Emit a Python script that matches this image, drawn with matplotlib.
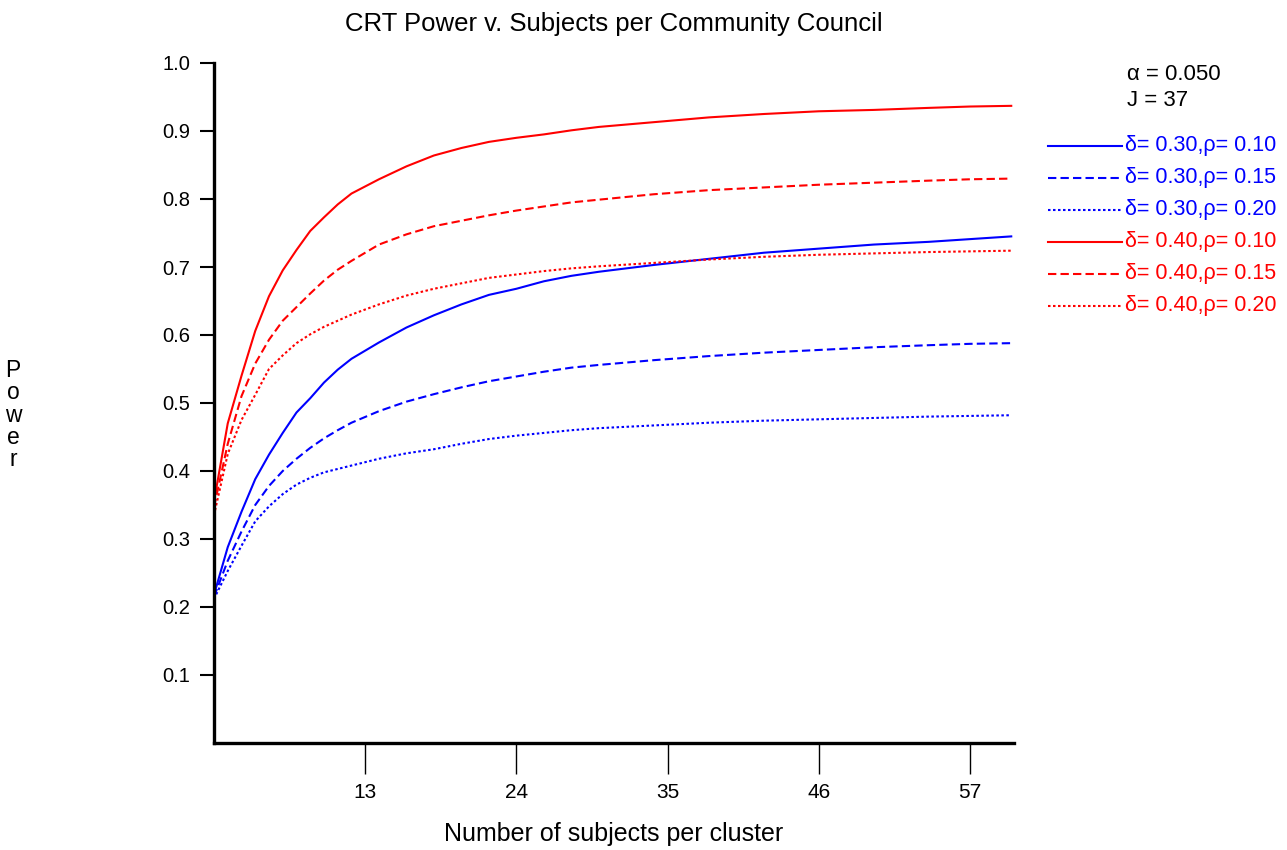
# plot.py
# CRT power curves vs. subjects per cluster (J = 37, alpha = 0.05)

import matplotlib
matplotlib.use("Agg")
import matplotlib.pyplot as plt
from matplotlib.lines import Line2D

plt.rcParams["font.family"] = ["Liberation Sans", "DejaVu Sans"]

# ─────────────────────────────────────────────
# DATA
# ─────────────────────────────────────────────
n_per_cluster = [2, 3, 4, 5, 6, 7, 8, 9, 10, 11, 12, 14, 16, 18, 20, 22, 24,
                 26, 28, 30, 34, 38, 42, 46, 50, 54, 57, 60]

power_d30_r10 = [0.218, 0.288, 0.340, 0.388, 0.424, 0.456, 0.486, 0.507, 0.530,
                 0.549, 0.565, 0.589, 0.611, 0.629, 0.645, 0.659, 0.668, 0.679,
                 0.687, 0.693, 0.703, 0.712, 0.721, 0.727, 0.733, 0.737, 0.741,
                 0.745]
power_d30_r15 = [0.215, 0.268, 0.311, 0.350, 0.378, 0.400, 0.418, 0.434, 0.448,
                 0.460, 0.471, 0.488, 0.502, 0.513, 0.523, 0.532, 0.539, 0.546,
                 0.552, 0.556, 0.563, 0.569, 0.574, 0.578, 0.582, 0.585, 0.587,
                 0.588]
power_d30_r20 = [0.212, 0.253, 0.290, 0.326, 0.348, 0.366, 0.380, 0.390, 0.398,
                 0.403, 0.408, 0.418, 0.426, 0.432, 0.440, 0.447, 0.452, 0.456,
                 0.460, 0.463, 0.467, 0.471, 0.474, 0.476, 0.478, 0.480, 0.481,
                 0.482]
power_d40_r10 = [0.355, 0.470, 0.540, 0.606, 0.657, 0.695, 0.725, 0.753, 0.773,
                 0.792, 0.808, 0.829, 0.848, 0.864, 0.875, 0.884, 0.890, 0.895,
                 0.901, 0.906, 0.913, 0.920, 0.925, 0.929, 0.931, 0.934, 0.936,
                 0.937]
power_d40_r15 = [0.347, 0.440, 0.510, 0.558, 0.593, 0.621, 0.641, 0.661, 0.680,
                 0.696, 0.709, 0.733, 0.748, 0.760, 0.768, 0.776, 0.783, 0.789,
                 0.795, 0.799, 0.807, 0.813, 0.817, 0.821, 0.824, 0.827, 0.829,
                 0.830]
power_d40_r20 = [0.335, 0.425, 0.475, 0.512, 0.550, 0.570, 0.588, 0.601, 0.612,
                 0.621, 0.630, 0.645, 0.658, 0.668, 0.676, 0.684, 0.689, 0.694,
                 0.698, 0.701, 0.706, 0.711, 0.715, 0.718, 0.720, 0.722, 0.723,
                 0.724]

series_labels = ["δ= 0.30,ρ= 0.10", "δ= 0.30,ρ= 0.15", "δ= 0.30,ρ= 0.20",
                 "δ= 0.40,ρ= 0.10", "δ= 0.40,ρ= 0.15", "δ= 0.40,ρ= 0.20"]

x_ticks = [13, 24, 35, 46, 57]
y_ticks = [0.1, 0.2, 0.3, 0.4, 0.5, 0.6, 0.7, 0.8, 0.9, 1.0]

# ─────────────────────────────────────────────
# STYLES
# ─────────────────────────────────────────────
BLUE = "#0000ff"
RED = "#ff0000"
SOLID = "-"
DASHED = (0, (4, 2))
DOTTED = (0, (1.2, 1.2))

series = [
    (power_d30_r10, BLUE, SOLID),
    (power_d30_r15, BLUE, DASHED),
    (power_d30_r20, BLUE, DOTTED),
    (power_d40_r10, RED, SOLID),
    (power_d40_r15, RED, DASHED),
    (power_d40_r20, RED, DOTTED),
]

# ─────────────────────────────────────────────
# FIGURE
# ─────────────────────────────────────────────
fig = plt.figure(figsize=(12.87, 8.5), dpi=100)
ax = fig.add_axes([214 / 1287, 1 - 743 / 850, 800 / 1287, 680 / 850])

for (vals, color, ls), label in zip(series, series_labels):
    ax.plot(n_per_cluster, vals, color=color, linestyle=ls, linewidth=1.5,
            label=label)

ax.set_xlim(2, 60.2)
ax.set_ylim(0, 1.0)
ax.set_xticks(x_ticks)
ax.set_yticks(y_ticks)
ax.set_yticklabels([f"{v:.1f}" for v in y_ticks])

for side in ("top", "right"):
    ax.spines[side].set_visible(False)
for side in ("left", "bottom"):
    ax.spines[side].set_linewidth(2.4)

ax.tick_params(axis="y", direction="out", length=10, width=1.5, labelsize=14.5, pad=7)
ax.tick_params(axis="x", direction="out", length=22, width=1.0, labelsize=15, pad=7)

ax.set_title("CRT Power v. Subjects per Community Council", fontsize=18.5, pad=23)
ax.set_xlabel("Number of subjects per cluster", fontsize=18, labelpad=14)
fig.text(13 / 1287, 1 - 415 / 850, "P\no\nw\ne\nr", fontsize=16.5,
         ha="center", va="center", linespacing=0.95)

# ── parameter notes + legend on the right ──
fig.text(1127 / 1287, 1 - 75 / 850, "α = 0.050", fontsize=16, va="center")
fig.text(1127 / 1287, 1 - 101 / 850, "J = 37", fontsize=16, va="center")

for i, ((vals, color, ls), label) in enumerate(zip(series, series_labels)):
    y = 1 - (146 + 32 * i) / 850
    fig.add_artist(Line2D([1048 / 1287, 1122 / 1287], [y, y], color=color,
                          linestyle=ls, linewidth=1.5, transform=fig.transFigure))
    fig.text(1125 / 1287, y, label, color=color, fontsize=15.5, va="center")

fig.savefig("out.png", dpi=100)
